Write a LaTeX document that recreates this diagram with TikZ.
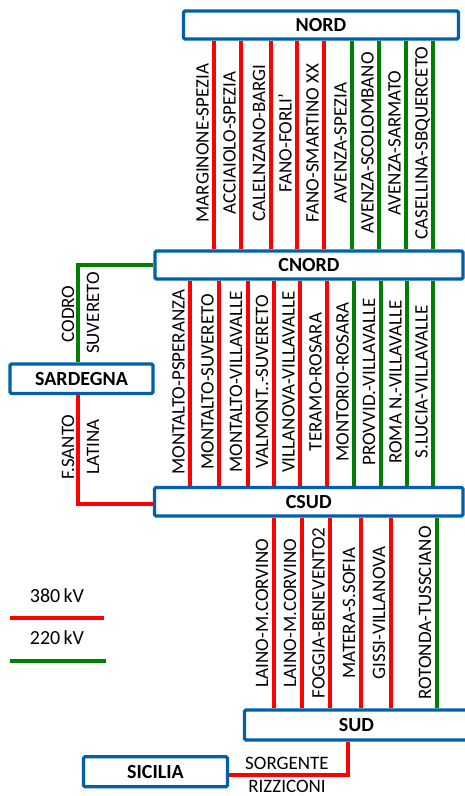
\documentclass[tikz,border=0pt]{standalone}
\usepackage{fontspec}
\setmainfont{Carlito}
\usetikzlibrary{calc}
\pgfdeclarelayer{bg}
\pgfsetlayers{bg,main}
\definecolor{boxblue}{RGB}{0,96,170}
\definecolor{lred}{RGB}{255,0,0}
\definecolor{lgreen}{RGB}{0,128,0}
\begin{document}
\begin{tikzpicture}[x=1pt,y=-1pt,
  area/.style={draw=boxblue, line width=3.4pt, fill=white, rounded corners=1.5pt, inner sep=0pt,
    font=\fontsize{20}{24}\selectfont\bfseries},
  lbl/.style={rotate=90, inner sep=0pt, text height=12.2pt, text depth=0pt,
    font=\fontsize{19}{22}\selectfont},
  kv/.style={inner sep=0pt, font=\fontsize{20}{24}\selectfont},
  l380/.style={draw=lred, line width=4pt},
  l220/.style={draw=lgreen, line width=4pt}]
\clip (0,0) rectangle (465,796);
\begin{pgfonlayer}{bg}
  \fill[white] (0,0) rectangle (465,796);
\end{pgfonlayer}

% area boxes
\node[area, minimum width=275pt, minimum height=28pt] (nord) at (321,25) {NORD};
\node[area, minimum width=308pt, minimum height=28pt] (cnord) at (309,265) {CNORD};
\node[area, minimum width=308.5pt, minimum height=28.5pt] (csud) at (308.75,501.75) {CSUD};
\node[area, minimum width=224pt, minimum height=30pt] (sud) at (356.5,725) {SUD};
\node[area, minimum width=143pt, minimum height=29.5pt] (sard) at (81.5,378.7) {SARDEGNA};
\node[area, minimum width=144pt, minimum height=30pt] (sic) at (155.5,771.7) {SICILIA};

% NORD - CNORD
\foreach \x/\c/\t [count=\i] in {214/l380/MARGINONE-SPEZIA, 241/l380/ACCIAIOLO-SPEZIA,
  270.5/l380/CALELNZANO-BARGI, 297/l380/FANO-FORLI’, 324/l380/FANO-SMARTINO XX,
  352/l220/AVENZA-SPEZIA, 379/l220/AVENZA-SCOLOMBANO, 406/l220/AVENZA-SARMATO,
  433/l220/CASELLINA-SBQUERCETO} {
  \coordinate (a\i) at (\x,143);
  \node[lbl] (al\i) at (\x-11.5,143) {\t};
  \begin{pgfonlayer}{bg}
    \draw[\c] (nord.south -| a\i) -- (cnord.north -| a\i);
  \end{pgfonlayer}
}

% CNORD - CSUD
\foreach \x/\c/\t [count=\i] in {190/l380/MONTALTO-PSPERANZA, 219/l380/MONTALTO-SUVERETO,
  247.5/l380/MONTALTO-VILLAVALLE, 273.5/l380/VALMONT..-SUVERETO, 300/l380/VILLANOVA-VILLAVALLE,
  327/l380/TERAMO-ROSARA, 354/l220/MONTORIO-ROSARA, 380.5/l220/PROVVID.-VILLAVALLE,
  407/l220/ROMA N.-VILLAVALLE, 433/l220/S.LUCIA-VILLAVALLE} {
  \coordinate (b\i) at (\x,382);
  \node[lbl] (bl\i) at (\x-11.5,382) {\t};
  \begin{pgfonlayer}{bg}
    \draw[\c] (cnord.south -| b\i) -- (csud.north -| b\i);
  \end{pgfonlayer}
}

% CSUD - SUD
\foreach \x/\c/\t [count=\i] in {273.5/l380/LAINO-M.CORVINO, 301.5/l380/LAINO-M.CORVINO,
  330/l380/FOGGIA-BENEVENTO2, 360.5/l380/MATERA-S.SOFIA, 390.5/l380/GISSI-VILLANOVA,
  436.5/l220/ROTONDA-TUSSCIANO} {
  \coordinate (c\i) at (\x,613);
  \node[lbl] (cl\i) at (\x-11.5,613) {\t};
  \begin{pgfonlayer}{bg}
    \draw[\c] (csud.south -| c\i) -- (sud.north -| c\i);
  \end{pgfonlayer}
}

% Sardegna links
\coordinate (sardup) at (78,265);
\coordinate (sarddn) at (78,504.3);
\begin{pgfonlayer}{bg}
  \draw[l220] (cnord.west) -- (sardup) -- (sardup |- sard.north);
  \draw[l380] (sarddn |- sard.south) -- (sarddn) -- (csud.west |- sarddn);
\end{pgfonlayer}
\node[lbl] (codro) at (68,314) {CODRO};
\node[lbl] (suvereto) at (93,313) {SUVERETO};
\node[lbl] (fsanto) at (68,447) {F.SANTO};
\node[lbl] (latina) at (93,447) {LATINA};

% Sicilia link
\coordinate (sicj) at (348,775);
\begin{pgfonlayer}{bg}
  \draw[l380] (sud.south -| sicj) -- (sicj) -- (sic.east |- sicj);
\end{pgfonlayer}
\node[kv, font=\fontsize{19}{22}\selectfont] (sorg) at (287,763) {SORGENTE};
\node[kv, font=\fontsize{19}{22}\selectfont] (rizz) at (287,786.5) {RIZZICONI};

% legend
\node[kv] (k380) at (57,596) {380\,kV};
\node[kv] (k220) at (57,638) {220\,kV};
\coordinate (r1) at (10,618.3);
\coordinate (r2) at (104,618.3);
\coordinate (g1) at (10,661);
\coordinate (g2) at (106,661);
\draw[l380] (r1) -- (r2);
\draw[l220] (g1) -- (g2);
\end{tikzpicture}
\end{document}
